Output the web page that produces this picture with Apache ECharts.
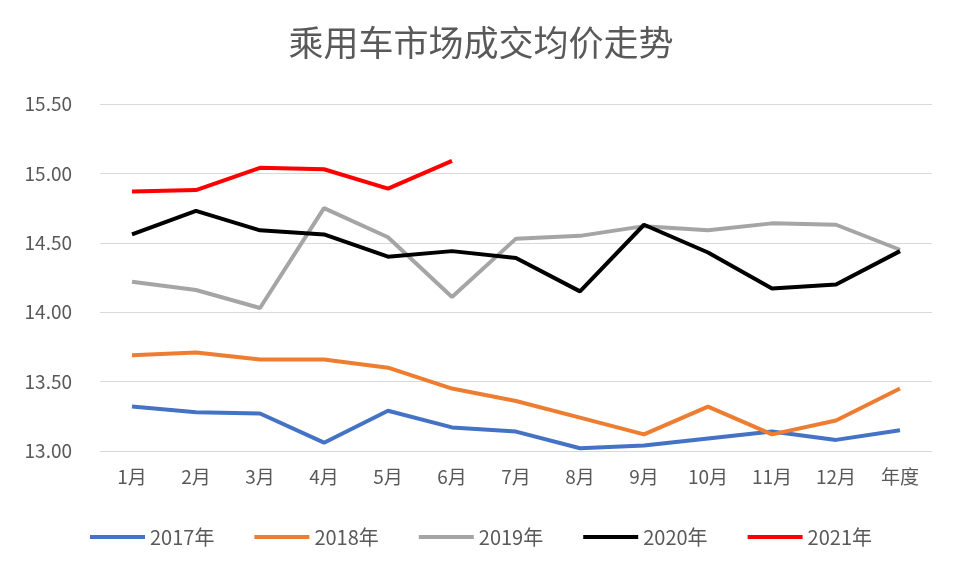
<!DOCTYPE html>
<html><head><meta charset="utf-8">
<script src="https://cdn.jsdelivr.net/npm/echarts@6/dist/echarts.min.js"></script>
<style>html,body{margin:0;background:#fff}#c{width:962px;height:578px}</style>
</head><body><div id="c"></div>
<script>
const categories=['1月','2月','3月','4月','5月','6月','7月','8月','9月','10月','11月','12月','年度'];
const s2017=[13.32,13.28,13.27,13.06,13.29,13.17,13.14,13.02,13.04,13.09,13.14,13.08,13.15];
const s2018=[13.69,13.71,13.66,13.66,13.60,13.45,13.36,13.24,13.12,13.32,13.12,13.22,13.45];
const s2019=[14.22,14.16,14.03,14.75,14.54,14.11,14.53,14.55,14.62,14.59,14.64,14.63,14.45];
const s2020=[14.56,14.73,14.59,14.56,14.40,14.44,14.39,14.15,14.63,14.43,14.17,14.20,14.44];
const s2021=[14.87,14.88,15.04,15.03,14.89,15.09];
const names=['2017年','2018年','2019年','2020年','2021年'];
const colors=['#4472c4','#ed7d31','#a5a5a5','#000000','#ff0000'];
const data=[s2017,s2018,s2019,s2020,s2021];
const font='"Noto Sans CJK SC", sans-serif';
const chart=echarts.init(document.getElementById('c'));
chart.setOption({
 animation:false,
 title:{text:'乘用车市场成交均价走势',left:'center',top:20,textStyle:{fontFamily:font,fontSize:35,fontWeight:'normal',color:'#595959'}},
 legend:{bottom:26,itemWidth:55,itemHeight:4,itemGap:40,icon:'rect',textStyle:{fontFamily:font,fontSize:20,color:'#595959'},data:names},
 grid:{left:100,right:30,top:104,bottom:127},
 xAxis:{type:'category',data:categories,boundaryGap:true,axisTick:{show:false},
  axisLine:{lineStyle:{color:'#d9d9d9'}},axisLabel:{fontFamily:font,fontSize:19,color:'#595959',margin:16}},
 yAxis:{type:'value',min:13,max:15.5,interval:0.5,axisLabel:{formatter:v=>v.toFixed(2),fontFamily:font,fontSize:19,color:'#595959',margin:28},
  splitLine:{lineStyle:{color:'#d9d9d9'}}},
 series:data.map((d,i)=>({name:names[i],type:'line',data:d,symbol:'none',lineStyle:{width:4,color:colors[i]},itemStyle:{color:colors[i]}}))
});
</script></body></html>
